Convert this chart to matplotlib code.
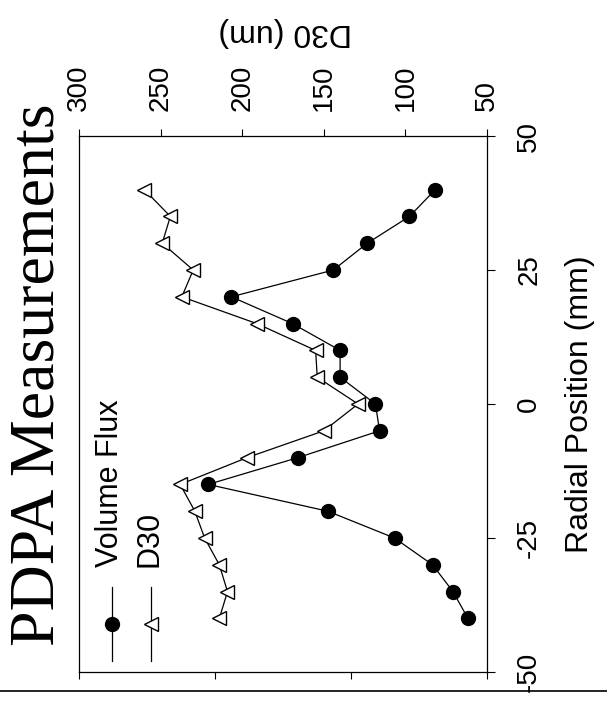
import numpy as np
import matplotlib
matplotlib.use("Agg")
import matplotlib.pyplot as plt
from matplotlib.lines import Line2D

# radial positions (mm)
radial = [-40, -35, -30, -25, -20, -15, -10, -5, 0, 5, 10, 15, 20, 25, 30, 35, 40]
# volume flux (arbitrary units, axis unlabeled)
volume_flux = [0.14, 0.25, 0.40, 0.68, 1.17, 2.05, 1.39, 0.79, 0.82, 1.08, 1.08,
               1.43, 1.88, 1.13, 0.88, 0.57, 0.38]
# D30 (um)
d30 = [214, 209, 214, 223, 229, 238, 197, 150, 129, 154, 155, 191, 237, 230,
       249, 244, 260]

d30_ticks = [300, 250, 200, 150, 100, 50]
radial_ticks = [-50, -25, 0, 25, 50]
flux_ticks = [0, 1, 2, 3]

SANS = "Liberation Sans"
SERIF = "Liberation Serif"
plt.rcParams["font.family"] = [SANS, "DejaVu Sans"]

fig = plt.figure(figsize=(6.07, 7.08), dpi=100)
ax = fig.add_axes([0.1301, 0.0508, 0.6722, 0.7571])
# twin first: twiny() resets the tick side of ax
ax2 = ax.twiny()

# D30 on ax (whole chart is turned 90 deg ccw)
ax.plot(d30, radial, color="black", lw=0.9, marker="<", ms=10,
        mfc="white", mec="black", mew=1.0, zorder=3)
ax.set_xlim(300, 50)
ax.set_ylim(-50, 50)
ax.xaxis.set_ticks_position("top")
ax.xaxis.set_label_position("top")
ax.set_xticks(d30_ticks)
ax.set_xticklabels([str(t) for t in d30_ticks], rotation=90, fontsize=20)
ax.yaxis.tick_right()
ax.set_yticks(radial_ticks)
ax.set_yticklabels([str(t) for t in radial_ticks], rotation=90, fontsize=20,
                   va="center")
ax.tick_params(axis="x", direction="out", length=5, width=0.8, pad=13,
               top=True, labeltop=True, bottom=False, labelbottom=False)
ax.tick_params(axis="y", direction="out", length=6, width=0.8, pad=15)
for s in ax.spines.values():
    s.set_linewidth(0.9)

# volume flux on the twin x axis (bottom, no labels)
ax2.plot(volume_flux, radial, color="black", lw=0.9, marker="o", ms=10,
         mfc="black", mec="black", zorder=3)
ax2.set_xlim(3, 0)
ax2.set_xticks(flux_ticks)
ax2.set_xticklabels([])
ax2.tick_params(axis="x", direction="out", length=5, width=0.8,
                bottom=True, top=False, labelbottom=False, labeltop=False)
for s in ax2.spines.values():
    s.set_visible(False)

# legend drawn by hand, rotated with the chart
leg = [("Volume Flux", "o", "black", 0.081), ("D30", "<", "white", 0.176)]
for label, mk, fc, lx in leg:
    ax2.add_line(Line2D([lx, lx], [0.0205, 0.1586], transform=ax.transAxes,
                        color="black", lw=0.9, clip_on=False))
    ax2.add_line(Line2D([lx], [0.0896], transform=ax.transAxes, marker=mk,
                        ms=10, mfc=fc, mec="black", mew=1.0, ls="none",
                        clip_on=False))
    ax.text(lx - 0.004, 0.196, label, transform=ax.transAxes, rotation=90,
            ha="center", va="bottom", fontsize=22)

# title and axis labels
fig.text(39 / 607, 1 - 375 / 708, "PDPA Measurements", rotation=90,
         ha="center", va="center", fontsize=46, family=SERIF)
fig.text(285 / 607, 1 - 32 / 708, "D30 (um)", rotation=180,
         ha="center", va="center", fontsize=23)
fig.text(580 / 607, 1 - 404 / 708, "Radial Position (mm)", rotation=90,
         ha="center", va="center", fontsize=23)

# page rule under the chart
fig.add_artist(Line2D([0.0, 1.0], [1 - 691 / 708, 1 - 691 / 708],
                      transform=fig.transFigure, color="black", lw=1.2))

fig.savefig("out.png", dpi=100)
